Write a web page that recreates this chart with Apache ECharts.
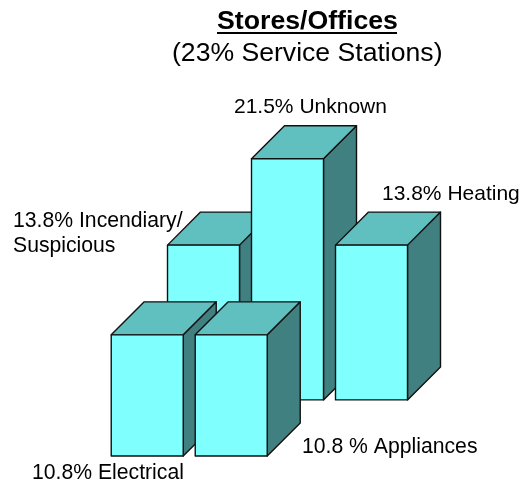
<!DOCTYPE html>
<html>
<head>
<meta charset="utf-8">
<style>html,body{margin:0;padding:0;background:#fff}#c{width:527px;height:482px}</style>
<script src="https://cdn.jsdelivr.net/npm/echarts@6/dist/echarts.min.js"></script>
</head>
<body>
<div id="c"></div>
<script>
var categories = ['Incendiary/Suspicious', 'Unknown', 'Heating', 'Electrical', 'Appliances'];
var values = [13.8, 21.5, 13.8, 10.8, 10.8];
var rows = [0, 0, 0, 1, 1];
var slots = [0, 1, 2, 0, 1];
var labels = ['13.8% Incendiary/\nSuspicious', '21.5% Unknown', '13.8% Heating', '10.8% Electrical', '10.8 % Appliances'];

var FONT = '"Liberation Sans", Arial, sans-serif';
var FRONT = '#80FFFF', TOP = '#60BFBF', SIDE = '#408080';
var ROW_SHIFT_X = -0.67, ROW_DROP = 5, BAR_FRAC = 0.857, DEPTH_FRAC = 0.393;

var chart = echarts.init(document.getElementById('c'), null, {renderer: 'canvas'});

function renderItem(params, api) {
  var i = api.value(0);
  var row = rows[i];
  var col = slots[i] + row * ROW_SHIFT_X;
  var floor = -row * ROW_DROP;
  var unit = api.size([1, 0])[0];
  var w = unit * BAR_FRAC, d = unit * DEPTH_FRAC;
  var b = api.coord([col, floor]);
  var t = api.coord([col, floor + api.value(1)]);
  var x0 = b[0] - w / 2, x1 = b[0] + w / 2, yb = b[1], yt = t[1];
  var line = {stroke: '#111', lineWidth: 1.4, lineJoin: 'round'};
  function poly(pts, fill) {
    return {type: 'polygon', shape: {points: pts}, style: Object.assign({fill: fill}, line)};
  }
  return {type: 'group', children: [
    poly([[x1, yb], [x1 + d, yb - d], [x1 + d, yt - d], [x1, yt]], SIDE),
    poly([[x0, yt], [x1, yt], [x1 + d, yt - d], [x0 + d, yt - d]], TOP),
    poly([[x0, yb], [x1, yb], [x1, yt], [x0, yt]], FRONT)
  ]};
}

function txt(content, x, y, size, opts) {
  return {type: 'text', left: x, top: y, silent: true, style: Object.assign({
    text: content, fill: '#000', font: size + 'px ' + FONT, lineHeight: 28
  }, opts || {})};
}

chart.setOption({
  animation: false,
  backgroundColor: '#fff',
  grid: {left: 119.5, width: 336, top: 119.5, height: 336.5},
  xAxis: {type: 'value', min: -1, max: 3, show: false},
  yAxis: {type: 'value', min: -5, max: 25, show: false},
  series: [{
    type: 'custom',
    renderItem: renderItem,
    data: values.map(function (v, i) { return [i, v]; }),
    encode: {x: 0, y: 1},
    clip: false
  }],
  graphic: [
    txt('Stores/Offices', 217, 7, 'bold 26.7', {lineHeight: 30}),
    {type: 'rect', silent: true, shape: {x: 217, y: 32, width: 180, height: 2}, style: {fill: '#000'}},
    txt('(23% Service Stations)', 172, 39, 26.6, {lineHeight: 30}),
    txt(labels[1], 234, 96, 21, {lineHeight: 22}),
    txt(labels[2], 382, 183, 21, {lineHeight: 22}),
    txt(labels[0], 13, 209, 21.2, {lineHeight: 25}),
    txt(labels[4], 302, 436, 21.2, {lineHeight: 22}),
    txt(labels[3], 32, 462, 21.2, {lineHeight: 22})
  ]
});
</script>
</body>
</html>
